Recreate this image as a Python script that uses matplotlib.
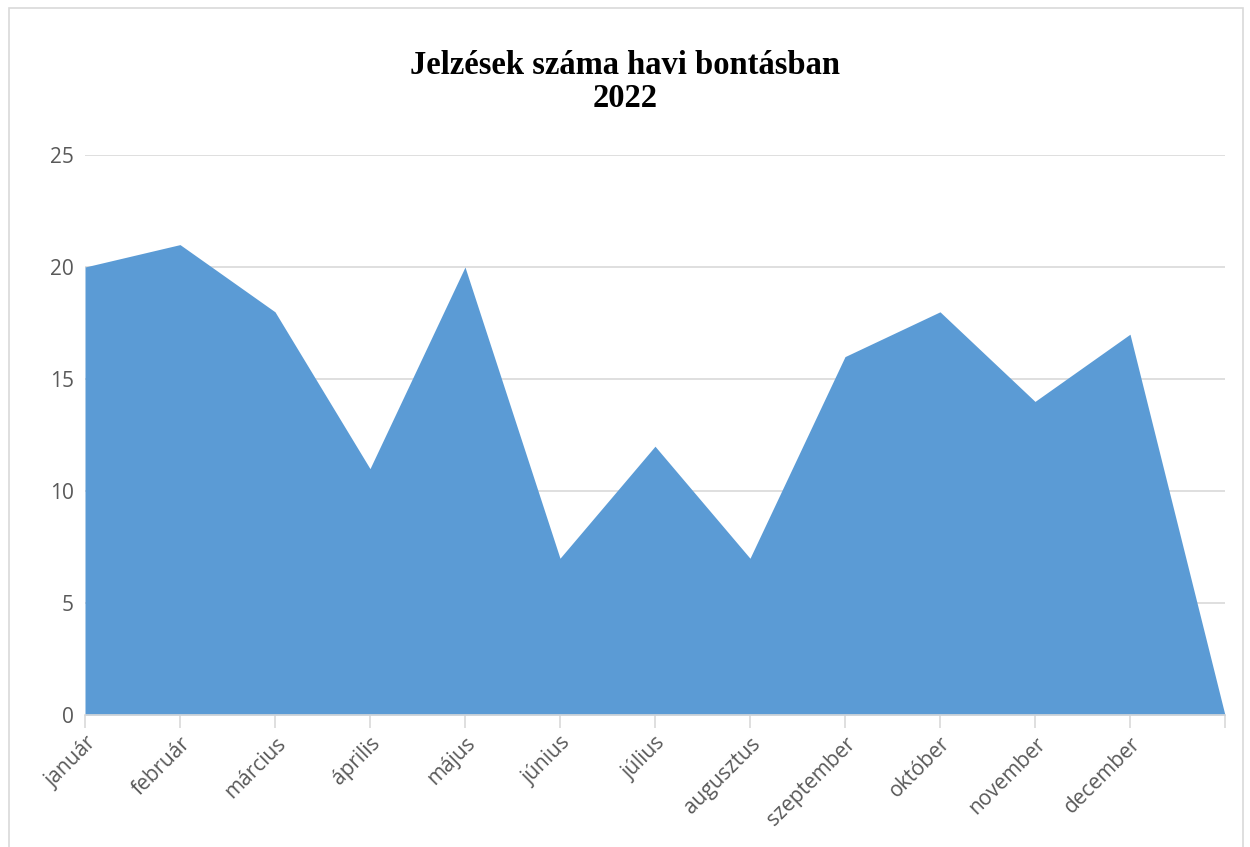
import matplotlib.pyplot as plt
from matplotlib.patches import Rectangle
import numpy as np

# adatok
honapok = ['január', 'február', 'március', 'április', 'május', 'június',
           'július', 'augusztus', 'szeptember', 'október', 'november', 'december', '']
jelzesek = [20, 21, 18, 11, 20, 7, 12, 7, 16, 18, 14, 17, 0]
y_ticks = [0, 5, 10, 15, 20, 25]

fig = plt.figure(figsize=(12.5, 8.47), dpi=100)
ax = fig.add_axes([0.068, 0.1558, 0.912, 0.6612])

x = np.arange(len(honapok))
ax.fill_between(x, jelzesek, 0, color='#5B9BD5', linewidth=0)

ax.set_xlim(0, len(honapok) - 1)
ax.set_ylim(0, 25)
ax.set_yticks(y_ticks)
ax.set_xticks(x)
ax.set_xticklabels(honapok, rotation=45, ha='right', rotation_mode='anchor',
                   fontsize=15, color='#595959', family='Open Sans')
for lbl in ax.get_yticklabels():
    lbl.set_fontsize(15)
    lbl.set_color('#595959')
    lbl.set_family('Open Sans')

ax.grid(axis='y', color='#d9d9d9', linewidth=1.2)
ax.set_axisbelow(True)
for s in ['top', 'right', 'left']:
    ax.spines[s].set_visible(False)
ax.spines['bottom'].set_color('#d9d9d9')
ax.spines['bottom'].set_linewidth(1.2)
ax.tick_params(axis='y', length=0, pad=8)
ax.tick_params(axis='x', length=9, color='#d9d9d9', width=1.2, pad=4)

fig.text(0.5, 0.923, 'Jelzések száma havi bontásban', ha='center', va='center',
         fontsize=23.5, fontweight='bold', family='Liberation Serif')
fig.text(0.5, 0.884, '2022', ha='center', va='center',
         fontsize=23.5, fontweight='bold', family='Liberation Serif')

# keret
fig.patches.append(Rectangle((0.007, -0.01), 0.987, 1.0, transform=fig.transFigure,
                             fill=False, edgecolor='#d9d9d9', linewidth=1.2))

fig.savefig('out.png', dpi=100)
